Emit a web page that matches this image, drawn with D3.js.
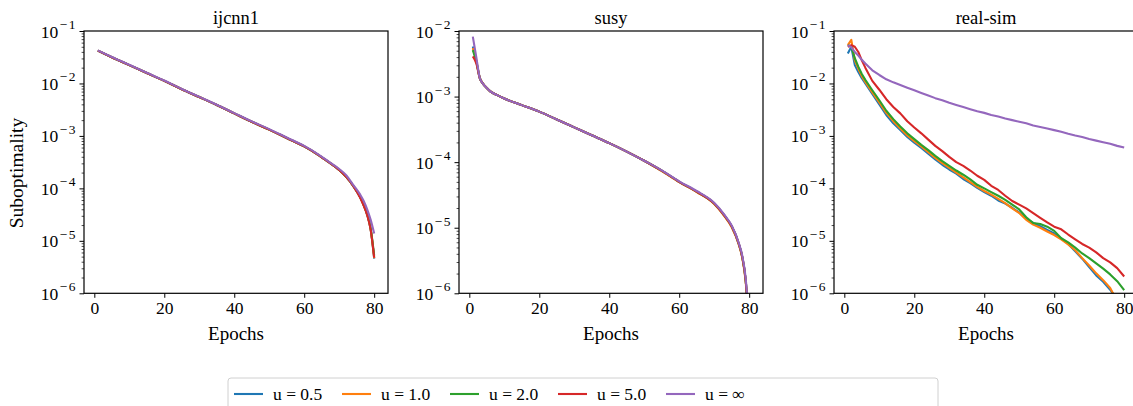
<!DOCTYPE html>
<html>
<head>
<meta charset="utf-8">
<script src="https://cdn.jsdelivr.net/npm/d3@7"></script>
<style>
  html, body { margin: 0; padding: 0; background: #fff; }
  svg { display: block; }
  text { font-family: "Liberation Serif", "DejaVu Serif", serif; fill: #000; }
</style>
</head>
<body>
<svg id="chart" width="1133" height="406"></svg>
<script>
// ---------------- DATA ----------------
const seriesNames = ["u = 0.5", "u = 1.0", "u = 2.0", "u = 5.0", "u = ∞"];
const seriesColors = ["#1f77b4", "#ff7f0e", "#2ca02c", "#d62728", "#9467bd"];
const panelTitles = ["ijcnn1", "susy", "real-sim"];
const xTicks = [0, 20, 40, 60, 80];
const yTicksWide = [1e-1, 1e-2, 1e-3, 1e-4, 1e-5, 1e-6];
const yTickExpWide = ["−1", "−2", "−3", "−4", "−5", "−6"];
const yTicksSusy = [1e-2, 1e-3, 1e-4, 1e-5, 1e-6];
const yTickExpSusy = ["−2", "−3", "−4", "−5", "−6"];

// ijcnn1
const ijcnnEpochs = [1, 5, 10, 15, 20, 25, 30, 35, 40, 45, 50, 55, 60, 64, 67, 70, 72, 74, 76, 77, 78, 79, 80];
const ijcnnU05 = [4.22e-2, 3.16e-2, 2.24e-2, 1.58e-2, 1.12e-2, 7.76e-3, 5.50e-3, 3.89e-3, 2.69e-3, 1.86e-3, 1.32e-3, 9.12e-4, 6.31e-4, 4.37e-4, 3.16e-4, 2.24e-4, 1.66e-4, 1.12e-4, 6.76e-5, 4.79e-5, 3.16e-5, 1.66e-5, 4.6e-6];
const ijcnnU1 = [4.22e-2, 3.16e-2, 2.24e-2, 1.58e-2, 1.12e-2, 7.76e-3, 5.50e-3, 3.89e-3, 2.69e-3, 1.86e-3, 1.32e-3, 9.12e-4, 6.31e-4, 4.37e-4, 3.16e-4, 2.24e-4, 1.66e-4, 1.12e-4, 6.76e-5, 4.79e-5, 3.16e-5, 1.66e-5, 4.7e-6];
const ijcnnU2 = [4.22e-2, 3.16e-2, 2.24e-2, 1.58e-2, 1.12e-2, 7.76e-3, 5.50e-3, 3.89e-3, 2.69e-3, 1.86e-3, 1.32e-3, 9.12e-4, 6.31e-4, 4.37e-4, 3.16e-4, 2.24e-4, 1.66e-4, 1.12e-4, 6.82e-5, 4.85e-5, 3.22e-5, 1.70e-5, 5.2e-6];
const ijcnnU5 = [4.22e-2, 3.16e-2, 2.24e-2, 1.58e-2, 1.12e-2, 7.76e-3, 5.50e-3, 3.89e-3, 2.69e-3, 1.86e-3, 1.32e-3, 9.12e-4, 6.31e-4, 4.37e-4, 3.16e-4, 2.24e-4, 1.66e-4, 1.12e-4, 6.61e-5, 4.68e-5, 3.09e-5, 1.62e-5, 4.8e-6];
const ijcnnUInf = [4.27e-2, 3.20e-2, 2.27e-2, 1.60e-2, 1.14e-2, 7.85e-3, 5.56e-3, 3.94e-3, 2.72e-3, 1.89e-3, 1.35e-3, 9.33e-4, 6.46e-4, 4.47e-4, 3.24e-4, 2.34e-4, 1.78e-4, 1.17e-4, 7.59e-5, 5.75e-5, 3.98e-5, 2.51e-5, 1.38e-5];

// susy
const susyEpochs = [1, 2, 3, 4, 5, 6, 8, 10, 15, 20, 25, 30, 35, 40, 45, 50, 55, 60, 65, 70, 73, 75, 77, 78, 79, 80];
const susyU05 = [5.8e-3, 3.5e-3, 1.91e-3, 1.55e-3, 1.35e-3, 1.20e-3, 1.05e-3, 9.33e-4, 7.41e-4, 5.89e-4, 4.47e-4, 3.39e-4, 2.57e-4, 1.95e-4, 1.45e-4, 1.05e-4, 7.41e-5, 5.01e-5, 3.55e-5, 2.34e-5, 1.51e-5, 1.05e-5, 5.75e-6, 3.63e-6, 1.58e-6, 2.5e-7];
const susyU1 = [5.5e-3, 3.5e-3, 1.91e-3, 1.55e-3, 1.35e-3, 1.20e-3, 1.05e-3, 9.33e-4, 7.41e-4, 5.89e-4, 4.47e-4, 3.39e-4, 2.57e-4, 1.95e-4, 1.45e-4, 1.05e-4, 7.30e-5, 4.95e-5, 3.50e-5, 2.30e-5, 1.48e-5, 1.02e-5, 5.6e-6, 3.5e-6, 1.5e-6, 2.4e-7];
const susyU2 = [5.1e-3, 3.4e-3, 1.91e-3, 1.55e-3, 1.35e-3, 1.20e-3, 1.05e-3, 9.33e-4, 7.41e-4, 5.89e-4, 4.47e-4, 3.39e-4, 2.57e-4, 1.95e-4, 1.45e-4, 1.05e-4, 7.41e-5, 5.01e-5, 3.55e-5, 2.34e-5, 1.51e-5, 1.05e-5, 5.75e-6, 3.63e-6, 1.58e-6, 2.5e-7];
const susyU5 = [4.1e-3, 3.2e-3, 1.91e-3, 1.55e-3, 1.35e-3, 1.20e-3, 1.05e-3, 9.33e-4, 7.41e-4, 5.89e-4, 4.47e-4, 3.39e-4, 2.57e-4, 1.95e-4, 1.45e-4, 1.05e-4, 7.41e-5, 5.01e-5, 3.55e-5, 2.34e-5, 1.51e-5, 1.05e-5, 5.75e-6, 3.63e-6, 1.58e-6, 2.5e-7];
const susyUInf = [8.2e-3, 3.98e-3, 1.91e-3, 1.55e-3, 1.35e-3, 1.20e-3, 1.05e-3, 9.33e-4, 7.41e-4, 5.89e-4, 4.47e-4, 3.39e-4, 2.57e-4, 1.95e-4, 1.45e-4, 1.05e-4, 7.50e-5, 5.10e-5, 3.63e-5, 2.40e-5, 1.55e-5, 1.08e-5, 5.9e-6, 3.8e-6, 1.7e-6, 3.0e-7];

// real-sim
const realEpochs = [1, 2, 3, 4, 5, 6, 8, 10, 12, 14, 16, 18, 20, 22, 24, 26, 28, 30, 32, 34, 36, 38, 40, 42, 44, 46, 48, 50, 52, 54, 56, 58, 60, 62, 64, 66, 68, 70, 72, 74, 76, 78, 80];
const realU05 = [3.72e-2, 5.01e-2, 2.24e-2, 1.66e-2, 1.26e-2, 1.00e-2, 6.31e-3, 3.98e-3, 2.51e-3, 1.74e-3, 1.29e-3, 9.55e-4, 7.41e-4, 5.89e-4, 4.57e-4, 3.55e-4, 2.82e-4, 2.29e-4, 1.91e-4, 1.51e-4, 1.26e-4, 1.02e-4, 8.51e-5, 7.24e-5, 5.89e-5, 5.13e-5, 4.27e-5, 3.47e-5, 2.63e-5, 2.19e-5, 1.91e-5, 1.62e-5, 1.38e-5, 1.12e-5, 8.71e-6, 6.31e-6, 4.57e-6, 3.16e-6, 2.19e-6, 1.66e-6, 1.17e-6, 7.59e-7, 4.47e-7];
const realU1 = [5.37e-2, 6.76e-2, 2.75e-2, 1.91e-2, 1.38e-2, 1.07e-2, 6.76e-3, 4.37e-3, 2.75e-3, 1.91e-3, 1.38e-3, 1.02e-3, 7.94e-4, 6.31e-4, 4.90e-4, 3.80e-4, 3.02e-4, 2.45e-4, 2.00e-4, 1.62e-4, 1.32e-4, 1.07e-4, 8.91e-5, 7.59e-5, 6.31e-5, 5.25e-5, 4.17e-5, 3.39e-5, 2.51e-5, 2.04e-5, 1.78e-5, 1.51e-5, 1.29e-5, 1.07e-5, 8.51e-6, 6.61e-6, 4.68e-6, 3.39e-6, 2.40e-6, 1.78e-6, 1.26e-6, 7.08e-7, 3.98e-7];
const realU2 = [5.37e-2, 5.01e-2, 3.02e-2, 2.09e-2, 1.51e-2, 1.17e-2, 7.41e-3, 4.79e-3, 3.02e-3, 2.09e-3, 1.51e-3, 1.12e-3, 8.71e-4, 6.76e-4, 5.37e-4, 4.17e-4, 3.31e-4, 2.69e-4, 2.19e-4, 1.82e-4, 1.48e-4, 1.17e-4, 1.00e-4, 8.51e-5, 7.24e-5, 6.03e-5, 4.90e-5, 3.98e-5, 2.82e-5, 2.19e-5, 2.09e-5, 1.86e-5, 1.55e-5, 1.12e-5, 9.33e-6, 7.41e-6, 5.75e-6, 4.68e-6, 3.72e-6, 2.95e-6, 2.29e-6, 1.70e-6, 1.15e-6];
const realU5 = [5.01e-2, 5.37e-2, 5.01e-2, 3.98e-2, 2.75e-2, 2.00e-2, 1.12e-2, 7.59e-3, 5.01e-3, 3.55e-3, 2.69e-3, 1.91e-3, 1.45e-3, 1.12e-3, 8.51e-4, 6.46e-4, 5.13e-4, 3.98e-4, 3.16e-4, 2.69e-4, 2.19e-4, 1.74e-4, 1.45e-4, 1.12e-4, 9.33e-5, 7.24e-5, 5.75e-5, 4.90e-5, 4.17e-5, 3.39e-5, 2.75e-5, 2.24e-5, 1.86e-5, 1.66e-5, 1.32e-5, 1.07e-5, 8.71e-6, 7.41e-6, 6.03e-6, 4.68e-6, 3.89e-6, 3.02e-6, 2.09e-6];
const realUInf = [5.37e-2, 4.90e-2, 3.98e-2, 3.39e-2, 2.82e-2, 2.40e-2, 1.78e-2, 1.45e-2, 1.20e-2, 1.05e-2, 9.33e-3, 8.32e-3, 7.41e-3, 6.61e-3, 5.89e-3, 5.25e-3, 4.79e-3, 4.27e-3, 3.89e-3, 3.55e-3, 3.24e-3, 2.95e-3, 2.75e-3, 2.51e-3, 2.34e-3, 2.14e-3, 2.00e-3, 1.86e-3, 1.74e-3, 1.58e-3, 1.48e-3, 1.38e-3, 1.29e-3, 1.20e-3, 1.10e-3, 1.02e-3, 9.55e-4, 8.71e-4, 8.13e-4, 7.59e-4, 7.08e-4, 6.46e-4, 6.03e-4];

// ---------------- LAYOUT ----------------
const panels = [
  { title: panelTitles[0], x0: 84, epochs: ijcnnEpochs, series: [ijcnnU05, ijcnnU1, ijcnnU2, ijcnnU5, ijcnnUInf], yTicks: yTicksWide, yExp: yTickExpWide, yDomain: [1e-6, 1e-1], smooth: true },
  { title: panelTitles[1], x0: 459, epochs: susyEpochs, series: [susyU05, susyU1, susyU2, susyU5, susyUInf], yTicks: yTicksSusy, yExp: yTickExpSusy, yDomain: [1e-6, 1e-2], smooth: true },
  { title: panelTitles[2], x0: 834, epochs: realEpochs, series: [realU05, realU1, realU2, realU5, realUInf], yTicks: yTicksWide, yExp: yTickExpWide, yDomain: [1e-6, 1e-1], smooth: false }
];
const plotW = 304, plotTop = 31, plotBottom = 293.3;
const svg = d3.select("#chart");
const defs = svg.append("defs");

panels.forEach((p, pi) => {
  const x = d3.scaleLinear().domain([-2.95, 83.95]).range([p.x0, p.x0 + plotW]);
  const y = d3.scaleLog().domain(p.yDomain).range([plotBottom, plotTop]);

  const clipId = "clip" + pi;
  defs.append("clipPath").attr("id", clipId).append("rect")
    .attr("x", p.x0).attr("y", plotTop).attr("width", plotW).attr("height", plotBottom - plotTop);

  const g = svg.append("g");

  // lines
  const line = d3.line().x((d, i) => x(p.epochs[i])).y(d => y(d))
    .curve(p.smooth ? d3.curveMonotoneX : d3.curveLinear);
  const lg = g.append("g").attr("clip-path", `url(#${clipId})`);
  p.series.forEach((s, si) => {
    lg.append("path").datum(s).attr("d", line)
      .attr("fill", "none").attr("stroke", seriesColors[si])
      .attr("stroke-width", 2.1).attr("stroke-linejoin", "round").attr("stroke-linecap", "butt");
  });

  // minor y ticks
  const [lo, hi] = p.yDomain;
  const minors = [];
  for (let dec = lo; dec < hi * 0.99; dec *= 10) {
    for (let k = 2; k <= 9; k++) minors.push(dec * k);
  }
  g.append("g").attr("transform", `translate(${p.x0},0)`)
    .call(d3.axisLeft(y).tickValues(minors).tickSize(2.4).tickFormat(""))
    .call(a => a.select(".domain").remove())
    .call(a => a.selectAll("line").attr("stroke", "#000").attr("stroke-width", 0.7));

  // major y ticks
  g.append("g").attr("transform", `translate(${p.x0},0)`)
    .call(d3.axisLeft(y).tickValues(p.yTicks).tickSize(4.5).tickFormat(""))
    .call(a => a.select(".domain").remove())
    .call(a => a.selectAll("line").attr("stroke", "#000").attr("stroke-width", 1));

  // y tick labels (10^{-n})
  p.yTicks.forEach((v, i) => {
    const t = g.append("text")
      .attr("x", p.x0 - 7).attr("y", y(v) + 6.5)
      .attr("text-anchor", "end").style("font-size", "17.5px");
    t.append("tspan").text("10");
    t.append("tspan").attr("dx", 1.5).attr("dy", -8.5)
      .style("font-size", "13.5px").style("letter-spacing", "1.5px").text(p.yExp[i]);
  });

  // x ticks
  const xa = g.append("g").attr("transform", `translate(0,${plotBottom})`)
    .call(d3.axisBottom(x).tickValues(xTicks).tickSize(4.5).tickPadding(4).tickFormat(d3.format("d")));
  xa.select(".domain").remove();
  xa.selectAll("line").attr("stroke", "#000").attr("stroke-width", 1);
  xa.selectAll("text").style("font-size", "17.5px")
    .style("font-family", '"Liberation Serif", "DejaVu Serif", serif').attr("fill", "#000");

  // frame
  g.append("rect").attr("x", p.x0).attr("y", plotTop).attr("width", plotW).attr("height", plotBottom - plotTop)
    .attr("fill", "none").attr("stroke", "#000").attr("stroke-width", 1.2);

  // title
  g.append("text").attr("x", p.x0 + plotW / 2).attr("y", 24)
    .attr("text-anchor", "middle").style("font-size", "18.5px").text(p.title);

  // x label
  g.append("text").attr("x", p.x0 + plotW / 2).attr("y", 339.5)
    .attr("text-anchor", "middle").style("font-size", "19px").text("Epochs");
});

// y label
svg.append("text").attr("transform", "translate(23,173) rotate(-90)")
  .attr("text-anchor", "middle").style("font-size", "19.5px").text("Suboptimality");

// legend
const legX = 228, legY = 378, legW = 710, legH = 36, step = 108;
svg.append("rect").attr("x", legX).attr("y", legY).attr("width", legW).attr("height", legH)
  .attr("rx", 3).attr("fill", "#fff").attr("fill-opacity", 0.8)
  .attr("stroke", "#d0d0d0").attr("stroke-width", 1);
seriesNames.forEach((name, i) => {
  const lx = legX + 6 + i * step;
  svg.append("line").attr("x1", lx).attr("x2", lx + 29).attr("y1", 394).attr("y2", 394)
    .attr("stroke", seriesColors[i]).attr("stroke-width", 2.1);
  svg.append("text").attr("x", lx + 39).attr("y", 400)
    .style("font-size", "17.5px").text(name);
});
</script>
</body>
</html>
